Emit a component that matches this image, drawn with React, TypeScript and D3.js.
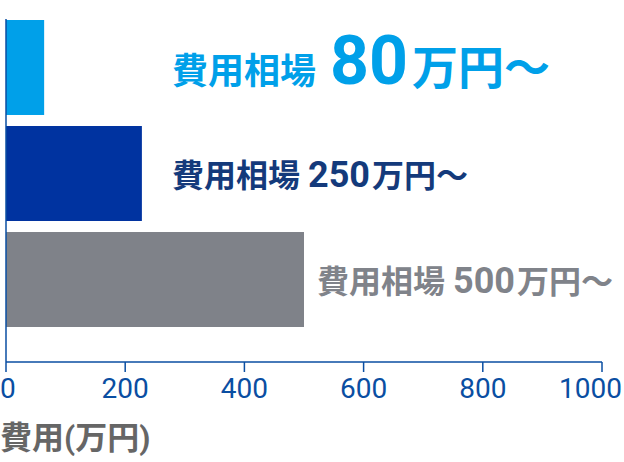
import * as d3 from 'd3';

const categories = ['low', 'mid', 'high'];
const costs = [64, 228, 500];
const priceLabels = ['80', '250', '500'];
const labelPrefix = '費用相場';
const labelSuffix = '万円～';
const xTicks = [0, 200, 400, 600, 800, 1000];
const axisTitle = '費用(万円)';

const barColors = ['#00a0e9', '#0033a0', '#7f8289'];
const textColors = ['#00a0e9', '#143a7b', '#80838a'];

export default function App() {
  const width = 624;
  const height = 462;
  const margin = { top: 20, left: 6, right: 22, axisY: 362 };
  const font = "Roboto, 'Noto Sans CJK JP', sans-serif";

  const x = d3.scaleLinear().domain([0, 1000]).range([margin.left, width - margin.right]);
  const y = d3.scaleBand().domain(categories).range([margin.top, 327]).paddingInner(0.104).paddingOuter(0);

  const bars = categories.map((c, i) => (
    <rect key={c} x={x(0)} y={y(c)} width={x(costs[i]) - x(0)} height={y.bandwidth()} fill={barColors[i]} />
  ));

  const labels = categories.map((c, i) => {
    const big = i === 0;
    const lx = Math.max(x(costs[i]) + 13, 172);
    const ly = y(c)! + y.bandwidth() / 2 + (big ? 17 : 13);
    return (
      <text key={c} x={lx} y={ly} fill={textColors[i]} fontFamily={font} fontWeight={700}>
        <tspan fontSize={big ? 36 : 32}>{labelPrefix}</tspan>
        <tspan fontSize={big ? 68 : 36} dx={big ? 14 : 8}>{priceLabels[i]}</tspan>
        <tspan fontSize={big ? 46 : 32} dx={big ? 4 : 2}>{labelSuffix}</tspan>
      </text>
    );
  });

  const axisColor = '#0a4ea2';
  // first and last tick labels are kept inside the picture
  const tickAnchor = (t: number) => (t === xTicks[0] ? 'start' : t === xTicks[xTicks.length - 1] ? 'end' : 'middle');
  const tickX = (t: number) => (t === xTicks[0] ? 0 : t === xTicks[xTicks.length - 1] ? width - 2 : x(t));

  return (
    <svg width={width} height={height} style={{ position: 'absolute', left: 0, top: 0 }}>
      {bars}
      <line x1={x(0)} x2={x(0)} y1={margin.top - 1} y2={margin.axisY} stroke={axisColor} strokeWidth={1.5} />
      <line x1={x(0)} x2={x(1000)} y1={margin.axisY} y2={margin.axisY} stroke={axisColor} strokeWidth={1.5} />
      {xTicks.map((t) => (
        <g key={t}>
          <line x1={x(t)} x2={x(t)} y1={margin.axisY} y2={margin.axisY + 10} stroke={axisColor} strokeWidth={1.5} />
          <text x={tickX(t)} y={398} textAnchor={tickAnchor(t)} fontSize={28} fontFamily={font} fill={axisColor}>
            {t}
          </text>
        </g>
      ))}
      {labels}
      <text x={0} y={449} fontSize={32} fontWeight={700} fontFamily={font} fill="#666666">
        {axisTitle}
      </text>
    </svg>
  );
}
